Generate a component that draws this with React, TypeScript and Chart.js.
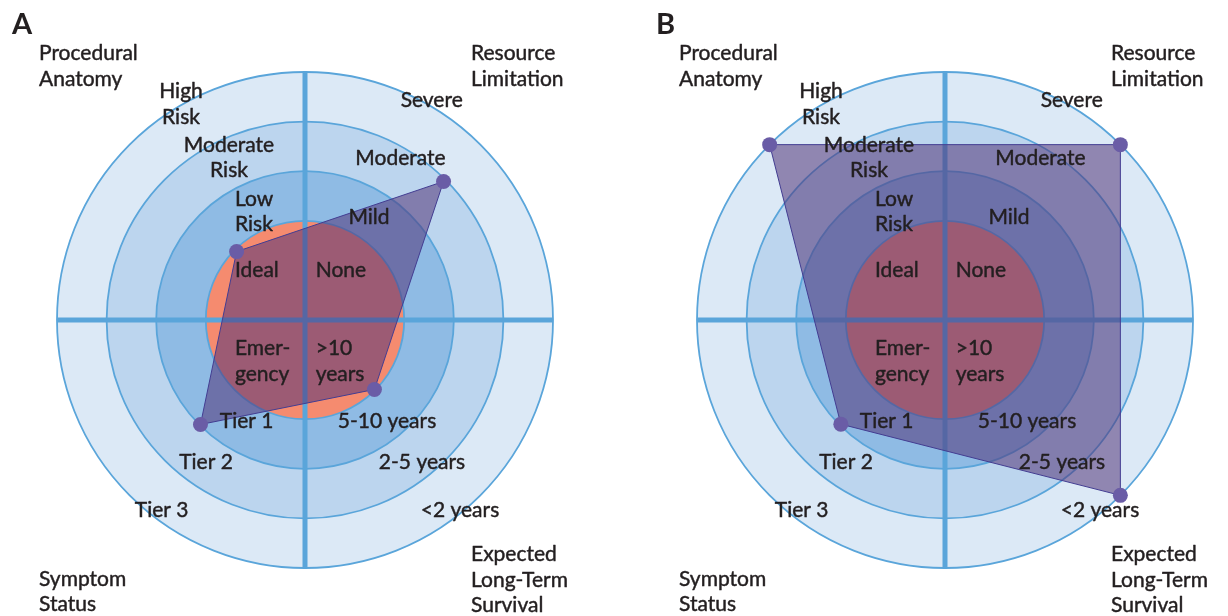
import React, { useEffect, useRef } from 'react';
import { Chart, registerables } from 'chart.js';

Chart.register(...registerables);

// ---- Data ----
const axisLabels = ['Procedural Anatomy', 'Resource Limitation', 'Expected Long-Term Survival', 'Symptom Status'];
const panelAValues = [1.95, 3.95, 1.98, 2.98];
const panelBValues = [5, 5, 5, 2.97];
const ringValues = [5, 4, 3, 2];

// category (tick) labels for each axis, from centre outward
const anatomyLevels = ['Ideal', 'Low\nRisk', 'Moderate\nRisk', 'High\nRisk'];
const resourceLevels = ['None', 'Mild', 'Moderate', 'Severe'];
const survivalLevels = ['>10\nyears', '5-10 years', '2-5 years', '<2 years'];
const symptomLevels = ['Emer-\ngency', 'Tier 1', 'Tier 2', 'Tier 3'];
const axisTitles = ['Procedural\nAnatomy', 'Resource\nLimitation', 'Expected\nLong-Term\nSurvival', 'Symptom\nStatus'];

// ---- Styles / layout ----
const ringColors = ['#DCE9F6', '#BCD5EE', '#8FBBE4', '#F58B6F'];
const lineBlue = '#5AA5DA';
const textColor = '#231F20';
const FONT = '21px Lato';
const LINE_H = 25.5;

type Pos = [number, number, CanvasTextAlign];
const anatomyPos: Pos[] = [[-70, -43, 'left'], [-70, -114.5, 'left'], [-76, -168.3, 'center'], [-124, -222, 'center']];
const resourcePos: Pos[] = [[10.7, -43, 'left'], [64, -95.7, 'center'], [95.5, -154.7, 'center'], [126.7, -212.7, 'center']];
const survivalPos: Pos[] = [[10.7, 35, 'left'], [82, 107.5, 'center'], [117, 149, 'center'], [155, 196.7, 'center']];
const symptomPos: Pos[] = [[-70, 35, 'left'], [-58.3, 107.5, 'center'], [-99, 149, 'center'], [-143.3, 196.7, 'center']];
const titlePos: Pos[] = [[-266, -260, 'left'], [166, -260, 'left'], [166, 241, 'left'], [-266, 265.7, 'left']];

const levelSets: [string[], Pos[]][] = [
  [anatomyLevels, anatomyPos],
  [resourceLevels, resourcePos],
  [survivalLevels, survivalPos],
  [symptomLevels, symptomPos],
  [axisTitles, titlePos],
];

const decorPlugin = {
  id: 'decor',
  beforeDraw(chart: any) {
    const s = chart.scales.r;
    const ctx = chart.ctx;
    ctx.save();
    ringValues.forEach((v, i) => {
      ctx.beginPath();
      ctx.arc(s.xCenter, s.yCenter, s.getDistanceFromCenterForValue(v), 0, Math.PI * 2);
      ctx.fillStyle = ringColors[i];
      ctx.fill();
    });
    ctx.restore();
  },
  beforeDatasetsDraw(chart: any) {
    const s = chart.scales.r;
    const ctx = chart.ctx;
    const R = s.getDistanceFromCenterForValue(s.max);
    ctx.save();
    ctx.strokeStyle = lineBlue;
    ctx.lineWidth = 5;
    ctx.beginPath();
    ctx.moveTo(s.xCenter - R, s.yCenter);
    ctx.lineTo(s.xCenter + R, s.yCenter);
    ctx.moveTo(s.xCenter, s.yCenter - R);
    ctx.lineTo(s.xCenter, s.yCenter + R);
    ctx.stroke();
    ctx.restore();
  },
  afterDatasetsDraw(chart: any, _args: any, opts: any) {
    const s = chart.scales.r;
    const ctx = chart.ctx;
    const k = s.drawingArea / 248;
    ctx.save();
    ctx.fillStyle = textColor;
    ctx.strokeStyle = textColor;
    ctx.lineWidth = 0.45;
    ctx.lineJoin = 'round';
    ctx.textBaseline = 'alphabetic';
    ctx.font = FONT;
    levelSets.forEach(([texts, pos]) => {
      texts.forEach((t, i) => {
        const [dx, dy, align] = pos[i];
        ctx.textAlign = align;
        t.split('\n').forEach((line, j) => {
          const x = s.xCenter + dx * k;
          const y = s.yCenter + dy * k + j * LINE_H;
          ctx.fillText(line, x, y);
          ctx.strokeText(line, x, y);
        });
      });
    });
    ctx.font = 'bold 29px Lato';
    ctx.textAlign = 'left';
    ctx.fillText(opts.letter, s.xCenter + opts.letterDx * k, s.yCenter - 286 * k);
    ctx.restore();
  },
};

function Panel({ values, letter, letterDx, padLeft, padRight }: { values: number[]; letter: string; letterDx: number; padLeft: number; padRight: number }) {
  const ref = useRef<HTMLCanvasElement>(null);
  useEffect(() => {
    if (!ref.current) return;
    const chart = new Chart(ref.current, {
      type: 'radar',
      data: {
        labels: axisLabels,
        datasets: [
          {
            data: values,
            fill: true,
            backgroundColor: 'rgba(82,53,120,0.55)',
            borderColor: '#433D92',
            borderWidth: 1,
            pointRadius: 7.5,
            pointHoverRadius: 7.5,
            pointBackgroundColor: '#6A5CA6',
            pointBorderWidth: 0,
            tension: 0,
          },
        ],
      },
      options: {
        responsive: false,
        animation: false,
        events: [],
        layout: { padding: { left: padLeft, right: padRight, top: 72, bottom: 48 } },
        plugins: {
          legend: { display: false },
          tooltip: { enabled: false },
          decor: { letter, letterDx },
        } as any,
        scales: {
          r: {
            min: 0,
            max: 5,
            startAngle: -45,
            ticks: { display: false, stepSize: 1 },
            pointLabels: { display: false },
            angleLines: { display: false },
            grid: {
              circular: true,
              color: (c: any) => (c.tick && c.tick.value >= 2 ? lineBlue : 'rgba(0,0,0,0)'),
              lineWidth: 1.8,
            },
          },
        },
      },
      plugins: [decorPlugin],
    });
    if ((document as any).fonts) {
      (document as any).fonts.load(FONT).then(() => chart.update()).catch(() => {});
      (document as any).fonts.load('bold 29px Lato').then(() => chart.update()).catch(() => {});
    }
    return () => chart.destroy();
  }, []);
  return <canvas ref={ref} width={614} height={616} style={{ display: 'block', width: 614, height: 616 }} />;
}

export default function App() {
  return (
    <div style={{ position: 'absolute', left: 0, top: 0, width: 1228, height: 616, display: 'flex', background: '#fff' }}>
      <Panel values={panelAValues} letter="A" letterDx={-293} padLeft={57} padRight={61} />
      <Panel values={panelBValues} letter="B" letterDx={-289} padLeft={83} padRight={35} />
    </div>
  );
}
